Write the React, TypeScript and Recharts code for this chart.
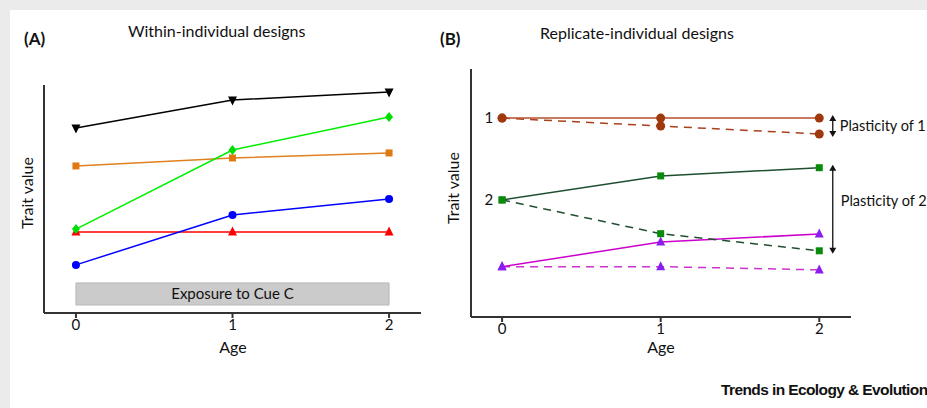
import React from "react";
import { LineChart, Line, XAxis, YAxis, ReferenceArea, ReferenceLine, ReferenceDot } from "recharts";

// ---------- Data ----------
const ages = [0, 1, 2];
const ageTicks = [0, 1, 2];
const domainA: [number, number] = [-0.204, 2.204];
const domainB: [number, number] = [-0.196, 2.2];

// Panel A (within-individual designs)
const aBlack = [81.1, 93.4, 96.9];
const aGreen = [36.8, 71.5, 86.0];
const aOrange = [64.5, 68.0, 70.2];
const aBlue = [21.1, 43.0, 50.0];
const aRed = [35.5, 35.5, 35.5];
const cueBand = { from: 0, to: 2, low: 3.5, high: 13.2, label: "Exposure to Cue C" };

// Panel B (replicate-individual designs)
const b1Solid = [80.2, 80.2, 80.2];
const b1Dashed = [80.2, 77.0, 73.8];
const b2Solid = [47.2, 56.9, 60.2];
const b2Dashed = [47.2, 33.6, 26.7];
const b3Solid = [20.3, 30.2, 33.5];
const b3Dashed = [20.3, 20.3, 19.0];

const dataA = ages.map((age, i) => ({
  age,
  black: aBlack[i],
  green: aGreen[i],
  orange: aOrange[i],
  blue: aBlue[i],
  red: aRed[i],
}));
const dataB = ages.map((age, i) => ({
  age,
  s1: b1Solid[i],
  d1: b1Dashed[i],
  s2: b2Solid[i],
  d2: b2Dashed[i],
  s3: b3Solid[i],
  d3: b3Dashed[i],
}));

const FONT = "Lato, 'Open Sans', sans-serif";

// ---------- Marker shapes ----------
const circleDot = (fill: string, r = 4) => (p: any) => (
  <circle key={p.index} cx={p.cx} cy={p.cy} r={r} fill={fill} stroke="none" />
);
const squareDot = (fill: string, s = 7) => (p: any) => (
  <rect key={p.index} x={p.cx - s / 2} y={p.cy - s / 2} width={s} height={s} fill={fill} />
);
const triDot = (fill: string, s = 9) => (p: any) => (
  <path
    key={p.index}
    d={`M${p.cx},${p.cy - s / 2 - 1} L${p.cx + s / 2},${p.cy + s / 2 - 1} L${p.cx - s / 2},${p.cy + s / 2 - 1} Z`}
    fill={fill}
  />
);
const invTriDot = (fill: string, s = 9) => (p: any) => (
  <path
    key={p.index}
    d={`M${p.cx - s / 2},${p.cy - s / 2 + 1} L${p.cx + s / 2},${p.cy - s / 2 + 1} L${p.cx},${p.cy + s / 2 + 1} Z`}
    fill={fill}
  />
);
const diamondDot = (fill: string, s = 5) => (p: any) => (
  <path
    key={p.index}
    d={`M${p.cx},${p.cy - s} L${p.cx + s * 0.8},${p.cy} L${p.cx},${p.cy + s} L${p.cx - s * 0.8},${p.cy} Z`}
    fill={fill}
  />
);

// Double-headed arrow shape for the plasticity ReferenceLines
const DoubleArrow = (props: any) => {
  const { x1, y1, y2 } = props;
  const top = Math.min(y1, y2) - 3;
  const bot = Math.max(y1, y2) + 3;
  const x = x1;
  const h = 6;
  const w = 3.5;
  return (
    <g>
      <line x1={x} y1={top + 2} x2={x} y2={bot - 2} stroke="#111" strokeWidth={1.3} />
      <path d={`M${x},${top} L${x + w},${top + h} L${x - w},${top + h} Z`} fill="#111" />
      <path d={`M${x},${bot} L${x + w},${bot - h} L${x - w},${bot - h} Z`} fill="#111" />
    </g>
  );
};

const tickStyle = { fontFamily: FONT, fontSize: 15, fill: "#111" };

const textStyle: React.CSSProperties = {
  position: "absolute",
  fontFamily: FONT,
  color: "#111",
  whiteSpace: "nowrap",
  lineHeight: 1,
};

export default function App() {
  return (
    <div
      style={{
        position: "absolute",
        left: 0,
        top: 0,
        width: 927,
        height: 408,
        background: "#ebebeb",
        overflow: "hidden",
      }}
    >
      <div style={{ position: "absolute", left: 10, top: 10, width: 917, height: 398, background: "#fff" }} />

      {/* Panel A */}
      <div style={{ position: "absolute", left: 0, top: 0 }}>
        <LineChart width={460} height={408} data={dataA} margin={{ top: 85, left: 44, right: 39, bottom: 65 }}>
          <XAxis
            dataKey="age"
            type="number"
            domain={domainA}
            ticks={ageTicks}
            allowDataOverflow
            stroke="#333"
            strokeWidth={2}
            tickSize={5}
            tick={tickStyle}
            height={30}
            tickMargin={1}
          />
          <YAxis type="number" domain={[0, 100]} hide />
          <ReferenceLine x={domainA[0]} stroke="#333" strokeWidth={2} ifOverflow="visible" />
          <ReferenceArea
            x1={cueBand.from}
            x2={cueBand.to}
            y1={cueBand.low}
            y2={cueBand.high}
            fill="#cbcbcb"
            fillOpacity={1}
            stroke="#b8b8b8"
            label={{ value: cueBand.label, position: "center", style: { fontFamily: FONT, fontSize: 15, fill: "#111" } }}
          />
          <Line dataKey="red" stroke="#ff0000" strokeWidth={1.5} dot={triDot("#ff0000", 9)} isAnimationActive={false} />
          <Line dataKey="blue" stroke="#0000ff" strokeWidth={1.5} dot={circleDot("#0000ff", 4)} isAnimationActive={false} />
          <Line dataKey="orange" stroke="#e08020" strokeWidth={1.5} dot={squareDot("#e07a10", 7)} isAnimationActive={false} />
          <Line dataKey="green" stroke="#00ee00" strokeWidth={1.5} dot={diamondDot("#00dd00", 5)} isAnimationActive={false} />
          <Line dataKey="black" stroke="#000" strokeWidth={1.5} dot={invTriDot("#000", 9)} isAnimationActive={false} />
        </LineChart>
      </div>

      {/* Panel B */}
      <div style={{ position: "absolute", left: 440, top: 0 }}>
        <LineChart width={487} height={408} data={dataB} margin={{ top: 69, left: 31, right: 76, bottom: 61 }}>
          <XAxis
            dataKey="age"
            type="number"
            domain={domainB}
            ticks={ageTicks}
            allowDataOverflow
            stroke="#333"
            strokeWidth={2}
            tickSize={5}
            tick={tickStyle}
            height={30}
            tickMargin={1}
          />
          <YAxis type="number" domain={[0, 100]} hide />
          <ReferenceLine x={domainB[0]} stroke="#333" strokeWidth={2} ifOverflow="visible" />
          <Line dataKey="d3" stroke="#cc33cc" strokeWidth={1.5} strokeDasharray="8 6" dot={triDot("#8a1ef0", 9)} isAnimationActive={false} />
          <Line dataKey="s3" stroke="#cc00cc" strokeWidth={1.5} dot={triDot("#8a1ef0", 9)} isAnimationActive={false} />
          <Line dataKey="d2" stroke="#1f4f30" strokeWidth={1.5} strokeDasharray="8 6" dot={squareDot("#0a8a0a", 7)} isAnimationActive={false} />
          <Line dataKey="s2" stroke="#1f4f30" strokeWidth={1.5} dot={squareDot("#0a8a0a", 7)} isAnimationActive={false} />
          <Line dataKey="d1" stroke="#a8401c" strokeWidth={1.5} strokeDasharray="8 6" dot={circleDot("#a0380e", 4.5)} isAnimationActive={false} />
          <Line dataKey="s1" stroke="#b4502c" strokeWidth={1.5} dot={circleDot("#a0380e", 4.5)} isAnimationActive={false} />
          <ReferenceDot
            x={0}
            y={b1Solid[0]}
            r={0}
            fill="none"
            stroke="none"
            label={{ value: "1", position: "left", offset: 9, style: { fontFamily: FONT, fontSize: 15, fill: "#111" } }}
          />
          <ReferenceDot
            x={0}
            y={b2Solid[0]}
            r={0}
            fill="none"
            stroke="none"
            label={{ value: "2", position: "left", offset: 9, style: { fontFamily: FONT, fontSize: 15, fill: "#111" } }}
          />
          <ReferenceLine
            segment={[
              { x: 2.085, y: b1Solid[2] },
              { x: 2.085, y: b1Dashed[2] },
            ]}
            shape={DoubleArrow}
            ifOverflow="visible"
            label={{ value: "Plasticity of 1", position: "right", offset: 7, style: { fontFamily: FONT, fontSize: 14.5, fill: "#111" } }}
          />
          <ReferenceLine
            segment={[
              { x: 2.085, y: b2Solid[2] },
              { x: 2.085, y: b2Dashed[2] },
            ]}
            shape={DoubleArrow}
            ifOverflow="visible"
            label={{ value: "Plasticity of 2", position: "right", offset: 8, dy: -8, style: { fontFamily: FONT, fontSize: 14.5, fill: "#111" } }}
          />
        </LineChart>
      </div>

      {/* Titles and axis labels */}
      <div style={{ ...textStyle, left: 24, top: 30, fontSize: 17, fontWeight: 700 }}>(A)</div>
      <div style={{ ...textStyle, left: 128, top: 23, fontSize: 16 }}>Within-individual designs</div>
      <div style={{ ...textStyle, left: 440, top: 30, fontSize: 17, fontWeight: 700 }}>(B)</div>
      <div style={{ ...textStyle, left: 540, top: 25, fontSize: 16 }}>Replicate-individual designs</div>

      <div style={{ ...textStyle, left: 233, top: 339, fontSize: 16, transform: "translateX(-50%)" }}>Age</div>
      <div style={{ ...textStyle, left: 661, top: 339, fontSize: 16, transform: "translateX(-50%)" }}>Age</div>

      <div
        style={{
          ...textStyle,
          left: 27,
          top: 193,
          fontSize: 16,
          transform: "translate(-50%, -50%) rotate(-90deg)",
        }}
      >
        Trait value
      </div>
      <div
        style={{
          ...textStyle,
          left: 453,
          top: 188,
          fontSize: 16,
          transform: "translate(-50%, -50%) rotate(-90deg)",
        }}
      >
        Trait value
      </div>

      <div
        style={{
          ...textStyle,
          left: 721,
          top: 382,
          fontSize: 15.5,
          fontWeight: 700,
          letterSpacing: -0.6,
          fontFamily: "'Liberation Sans', Arial, sans-serif",
        }}
      >
        Trends in Ecology &amp; Evolution
      </div>
    </div>
  );
}
